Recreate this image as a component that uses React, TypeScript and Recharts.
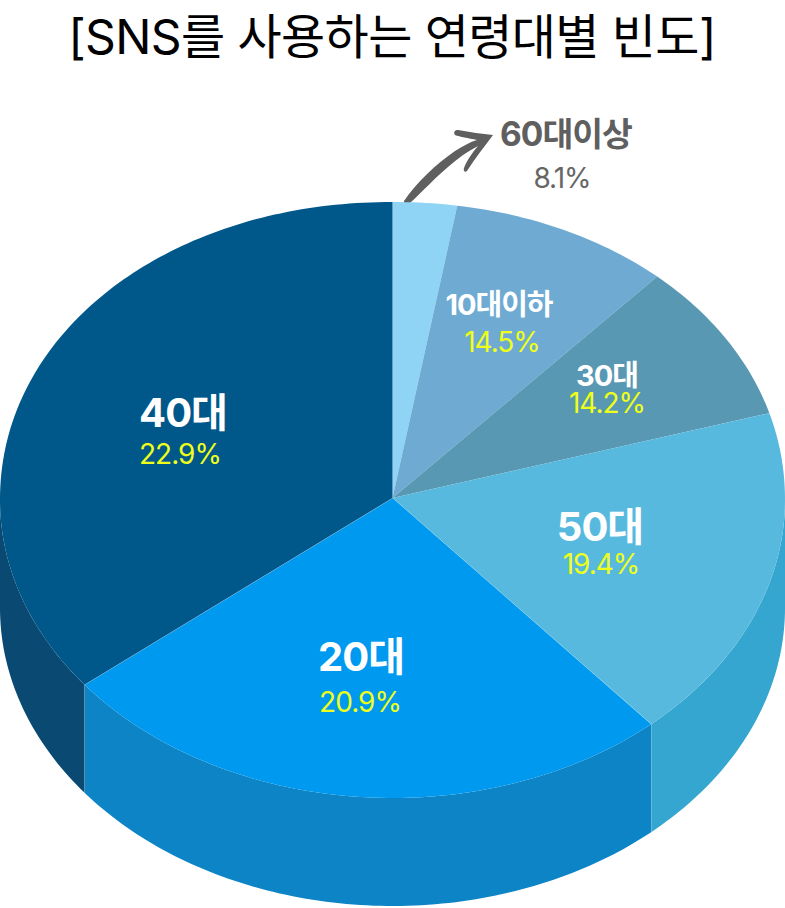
import React from 'react';
import { PieChart, Pie, Cell } from 'recharts';

const CATEGORIES = ['60대이상', '10대이하', '30대', '50대', '20대', '40대'];
// printed percentages
const PERCENT_LABELS = ['8.1%', '14.5%', '14.2%', '19.4%', '20.9%', '22.9%'];
// the drawn slices don't follow the printed numbers, so these are read off the picture (share of the circle, %)
const SLICE_SHARES = [2.52, 9.12, 8.8, 18.11, 25.81, 35.64];
const TOP_COLORS = ['#8fd4f5', '#6eaad2', '#5898b2', '#58b9de', '#0099f0', '#00578a'];
const WALL_COLORS = ['#8fd4f5', '#6eaad2', '#5898b2', '#35a6cf', '#0c84c6', '#0a4a72'];

const chartData = CATEGORIES.map((name, i) => ({ name, value: SLICE_SHARES[i], percent: PERCENT_LABELS[i] }));

const WIDTH = 785;
const HEIGHT = 908;
const CX = 392.5;
const CY = 500;
const APEX_Y = 498;
const RX = 392.5;
const RY = 298;
const DEPTH = 108;
const ROUNDNESS = 2 / 2.05; // back half of the rim is a touch fuller than a true ellipse

// label placement per slice: name centre, percent centre, name size, percent size
const LABEL_LAYOUT = [
  { nx: 566, ny: 134, px: 562, py: 178, ns: 33.5, ps: 28, nc: '#5f5f5f', pc: '#666666' },
  { nx: 499, ny: 304, px: 502, py: 342, ns: 29, ps: 28, nc: '#ffffff', pc: '#eeff1a' },
  { nx: 607, ny: 375, px: 607, py: 403, ns: 29, ps: 28, nc: '#ffffff', pc: '#eeff1a' },
  { nx: 600, ny: 526, px: 601, py: 564, ns: 40, ps: 28, nc: '#ffffff', pc: '#eeff1a' },
  { nx: 361, ny: 656, px: 360, py: 702, ns: 40, ps: 28, nc: '#ffffff', pc: '#eeff1a' },
  { nx: 183, ny: 412, px: 180, py: 454, ns: 40, ps: 28, nc: '#ffffff', pc: '#eeff1a' },
];

const FONT = 'Inter, "Noto Sans CJK KR", "Noto Sans", sans-serif';

const pt = (deg: number, dy = 0) => {
  const r = (deg * Math.PI) / 180;
  const c = Math.cos(r);
  const s = Math.sin(r);
  const e = s > 0 ? ROUNDNESS : 1;
  return [
    CX + RX * Math.sign(c) * Math.pow(Math.abs(c), e),
    CY - RY * Math.sign(s) * Math.pow(Math.abs(s), e) + dy,
  ];
};

// rim points walked from one angle to the other, one degree at a time
const rim = (from: number, to: number, dy = 0) => {
  const steps = Math.max(1, Math.ceil(Math.abs(to - from)));
  const out: string[] = [];
  for (let i = 0; i <= steps; i++) {
    const [x, y] = pt(from + ((to - from) * i) / steps, dy);
    out.push(`${x},${y}`);
  }
  return out;
};

// flattened sector with its side wall hanging below the front edge
const SliceShape = (props: any) => {
  const { startAngle, endAngle, index } = props;
  const hi = Math.max(startAngle, endAngle);
  const lo = Math.min(startAngle, endAngle);
  const top = `M${CX},${APEX_Y} L${rim(hi, lo).join(' L')} Z`;

  // only the front half of the rim has a wall
  const wallHi = Math.min(hi, 0);
  const wallLo = Math.max(lo, -180);
  let wall = null;
  if (wallHi > wallLo) {
    wall = <path d={`M${rim(wallHi, wallLo).join(' L')} L${rim(wallLo, wallHi, DEPTH).join(' L')} Z`} fill={WALL_COLORS[index]} />;
  }
  const [ex, ey] = pt(lo);
  const seam = index === 3 || index === 4;
  return (
    <g>
      {wall}
      <path d={top} fill={TOP_COLORS[index]} />
      {seam && <line x1={CX} y1={APEX_Y} x2={ex} y2={ey} stroke="#ffffff" strokeOpacity={0.45} strokeWidth={1} />}
      {seam && <line x1={ex} y1={ey} x2={ex} y2={ey + DEPTH} stroke="#ffffff" strokeOpacity={0.35} strokeWidth={1} />}
    </g>
  );
};

const SliceLabel = (props: any) => {
  const { index } = props;
  const l = LABEL_LAYOUT[index];
  return (
    <g fontFamily={FONT} textAnchor="middle" dominantBaseline="central">
      <text x={l.nx} y={l.ny} fontSize={l.ns} fontWeight={700} fill={l.nc} letterSpacing={-1}>
        {CATEGORIES[index]}
      </text>
      <text x={l.px} y={l.py} fontSize={l.ps} fontWeight={400} fill={l.pc} letterSpacing={-1}>
        {PERCENT_LABELS[index]}
      </text>
    </g>
  );
};

export default function App() {
  return (
    <div style={{ position: 'absolute', left: 0, top: 0, width: WIDTH, height: HEIGHT, overflow: 'hidden', background: '#fff' }}>
      <PieChart width={WIDTH} height={HEIGHT} margin={{ top: 0, right: 0, bottom: 0, left: 0 }}>
        <Pie
          data={chartData}
          dataKey="value"
          nameKey="name"
          cx={CX}
          cy={CY}
          outerRadius={RX}
          startAngle={90}
          endAngle={-270}
          stroke="none"
          shape={SliceShape}
          label={SliceLabel}
          labelLine={false}
          isAnimationActive={false}
        >
          {chartData.map((entry, index) => (
            <Cell key={`cell-${index}`} fill={TOP_COLORS[index]} />
          ))}
        </Pie>
        <text x={392} y={36} textAnchor="middle" dominantBaseline="central" fontFamily={FONT} fontSize={48} fontWeight={400} fill="#000" letterSpacing={-0.6}>
          [SNS를 사용하는 연령대별 빈도]
        </text>
        {/* hand drawn arrow up to the small slice's label */}
        <path
          d="M404,201 C416,183 436,164 455,151 C463,146 470,142 477,140 C468,138 460,137 455,135 C453,132 455,130 458,130 C470,132 482,134 493,135 C485,146 475,158 467,171 C465,173 463,171 464,168 C467,160 473,152 478,146 C468,151 458,158 448,167 C436,177 424,190 410,203 C406,206 403,204 404,201 Z"
          fill="#5f5f5f"
        />
      </PieChart>
    </div>
  );
}
